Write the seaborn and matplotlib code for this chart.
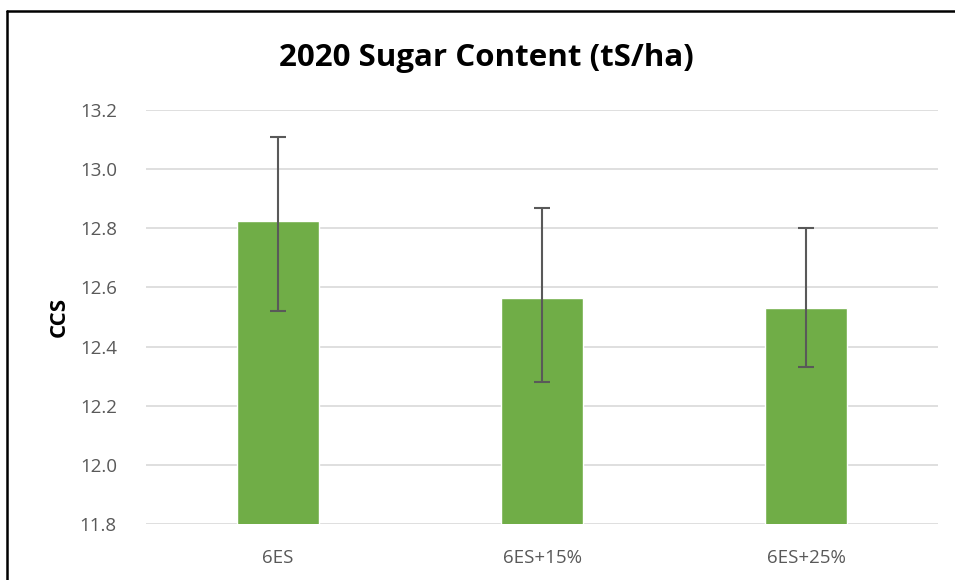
import numpy as np
import pandas as pd
import matplotlib
matplotlib.use("Agg")
import matplotlib.pyplot as plt
from matplotlib.lines import Line2D
import seaborn as sns

# data
treatments = ["6ES", "6ES+15%", "6ES+25%"]
ccs_mean = [12.825, 12.563, 12.531]
err_upper = [13.11, 12.87, 12.80]   # top of whisker
err_lower = [12.52, 12.28, 12.33]   # bottom of whisker
y_ticks = [11.8, 12.0, 12.2, 12.4, 12.6, 12.8, 13.0, 13.2]

df = pd.DataFrame({"treatment": treatments, "ccs": ccs_mean})

sns.set_style("white")
plt.rcParams["font.family"] = ["Open Sans", "DejaVu Sans"]

fig = plt.figure(figsize=(9.55, 5.8), dpi=100)
ax = fig.add_axes([146 / 955, 1 - 524 / 580, (938 - 146) / 955, (524 - 110) / 580])

sns.barplot(data=df, x="treatment", y="ccs", color="#70AD47", width=0.3125,
            saturation=1, errorbar=None, ax=ax, zorder=2)

# asymmetric error bars
yerr = np.array([np.array(ccs_mean) - np.array(err_lower),
                 np.array(err_upper) - np.array(ccs_mean)])
ax.errorbar(np.arange(len(treatments)), ccs_mean, yerr=yerr, fmt="none",
            ecolor="#595959", elinewidth=1.5, capsize=6, capthick=1.5, zorder=3)

ax.set_ylim(11.8, 13.2)
ax.set_yticks(y_ticks)
ax.set_yticklabels([f"{t:.1f}" for t in y_ticks])
ax.set_xlim(-0.5, len(treatments) - 0.5)
ax.yaxis.grid(True, color="#D9D9D9", linewidth=1.2, zorder=0)
ax.set_axisbelow(True)
for s in ax.spines.values():
    s.set_visible(False)
ax.tick_params(axis="both", length=0, colors="#595959", labelsize=13.5)
ax.tick_params(axis="y", pad=21)
ax.tick_params(axis="x", pad=18)
ax.set_xlabel("")
ax.set_ylabel("CCS", fontsize=16, fontweight="bold", color="black", labelpad=7)

fig.text(486 / 955, 1 - 58 / 580, "2020 Sugar Content (tS/ha)", ha="center", va="center",
         fontsize=22.5, fontweight="bold", color="black")

# chart frame (top and left edges visible in the crop)
fig.add_artist(Line2D([7 / 955, 1.01], [1 - 10.5 / 580, 1 - 10.5 / 580],
                      transform=fig.transFigure, color="black", linewidth=1.8))
fig.add_artist(Line2D([7 / 955, 7 / 955], [-0.01, 1 - 10.5 / 580],
                      transform=fig.transFigure, color="black", linewidth=1.8))

fig.savefig("out.png", dpi=100)
